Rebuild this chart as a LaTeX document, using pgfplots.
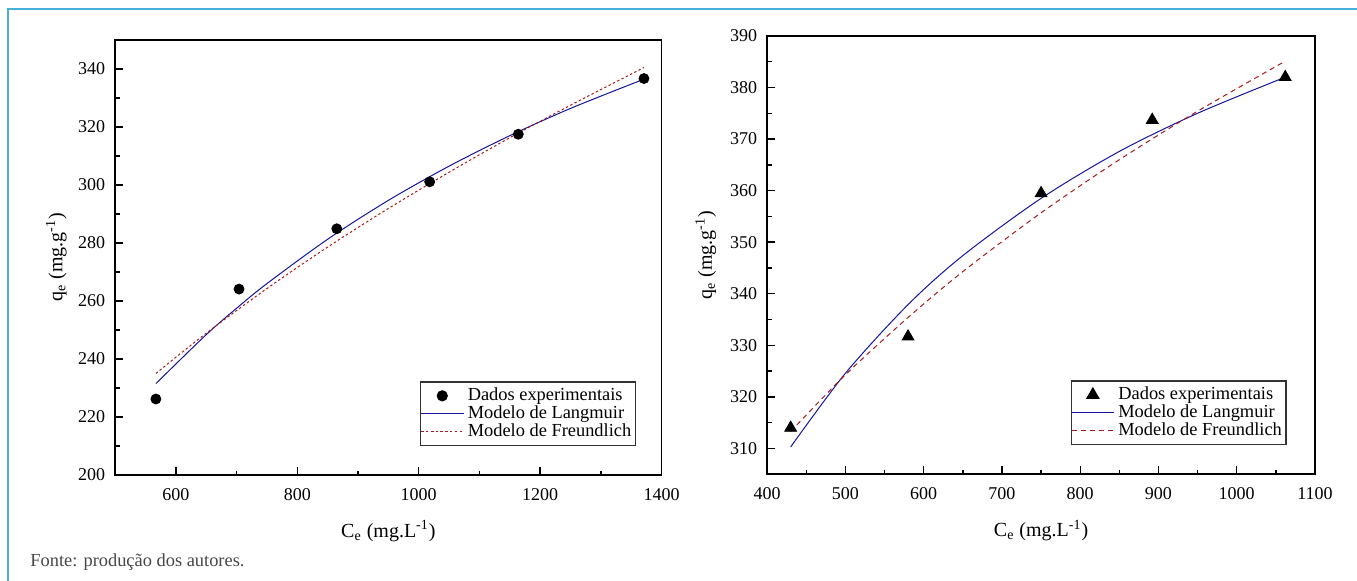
\documentclass[border=0pt]{standalone}
\usepackage{fontspec}
\setmainfont{Liberation Serif}
\usepackage{pgfplots}
\pgfplotsset{compat=1.18}

\definecolor{frameblue}{RGB}{70,175,220}
\definecolor{langblue}{RGB}{20,20,160}
\definecolor{freured}{RGB}{170,25,25}

\pgfplotsset{
  isoterma/.style={
    scale only axis,
    axis line style={line width=0.8pt},
    tick align=inside,
    xtick pos=bottom, ytick pos=left,
    minor tick num=1,
    major tick length=4pt, minor tick length=2.2pt,
    every tick/.style={black, line width=0.7pt},
    tick label style={font=\fontsize{9}{10}\selectfont},
    /pgf/number format/assume math mode=true,
    /pgf/number format/1000 sep={},
    xticklabel style={yshift=-3pt},
    yticklabel style={xshift=-1.5pt},
    label style={font=\fontsize{10.5}{12}\selectfont},
    legend cell align=left,
    legend style={font=\fontsize{9.2}{11}\selectfont, draw=black!80, line width=0.6pt,
      inner xsep=0pt, inner ysep=1pt, row sep=-3pt},
    legend image code/.code={\draw[mark repeat=2,mark phase=2,#1]
      plot coordinates {(0pt,0pt) (10.5pt,0pt) (21pt,0pt)};},
  }
}

\begin{document}
\begin{tikzpicture}
\path[use as bounding box] (0,0) rectangle (678.5pt,290.5pt);
\draw[frameblue, line width=0.6pt] (4pt,0pt) -- (4pt,286pt) -- (678.5pt,286pt);

% esquerda
\begin{axis}[isoterma,
  at={(57.6pt,53pt)}, anchor=south west,
  width=273.2pt, height=217.5pt,
  xmin=500, xmax=1400, ymin=200, ymax=350,
  xtick={600,800,...,1400}, ytick={200,220,...,340},
  xlabel={C\textsubscript{e} (mg.L\textsuperscript{-1})},
  ylabel={q\textsubscript{e} (mg.g\textsuperscript{-1})},
  every axis x label/.style={at={(axis description cs:0.5,-0.129)}, anchor=center},
  every axis y label/.style={at={(axis description cs:-0.108,0.5)}, rotate=90, anchor=center},
  legend style={at={(0.953,0.067)}, anchor=south east},
]
\addplot[only marks, mark=*, mark size=2.5pt, black] coordinates {
  (567,226.2) (704,264.1) (865,284.9) (1018,301.1) (1164,317.5) (1371,336.7)
};
\addlegendentry{Dados experimentais}
\addplot[langblue, line width=0.5pt, smooth] coordinates {
  (567,231.5) (650,248.4) (704,258.2) (750,266.0) (850,281.3) (950,294.7)
  (1050,306.5) (1150,317.0) (1250,326.4) (1371,336.5)
};
\addlegendentry{Modelo de Langmuir}
\addplot[freured, line width=0.5pt, smooth, dash pattern=on 1.2pt off 1.2pt] coordinates {
  (567,235.0) (650,248.9) (750,264.3) (850,278.6) (950,291.9)
  (1050,304.4) (1150,316.3) (1250,327.5) (1371,340.5)
};
\addlegendentry{Modelo de Freundlich}
\end{axis}

% direita
\begin{axis}[isoterma,
  at={(383.6pt,53.35pt)}, anchor=south west,
  width=273.9pt, height=219.2pt,
  xmin=400, xmax=1100, ymin=305, ymax=390,
  xtick={400,500,...,1100}, ytick={310,320,...,390},
  xlabel={C\textsubscript{e} (mg.L\textsuperscript{-1})},
  ylabel={q\textsubscript{e} (mg.g\textsuperscript{-1})},
  every axis x label/.style={at={(axis description cs:0.5,-0.129)}, anchor=center},
  every axis y label/.style={at={(axis description cs:-0.112,0.5)}, rotate=90, anchor=center},
  legend style={at={(0.948,0.067)}, anchor=south east},
]
\addplot[only marks, mark=triangle*, mark size=3.4pt, black] coordinates {
  (430,314.0) (580,331.7) (750,359.5) (892,373.7) (1062,382.0)
};
\addlegendentry{Dados experimentais}
\addplot[langblue, line width=0.5pt, smooth] coordinates {
  (430,310.3) (500,324.6) (580,337.9) (650,347.4) (750,358.5)
  (850,367.6) (950,375.0) (1062,382.0)
};
\addlegendentry{Modelo de Langmuir}
\addplot[freured, line width=0.5pt, smooth, dash pattern=on 2.5pt off 2pt] coordinates {
  (430,313.3) (500,324.3) (580,335.4) (650,344.3) (750,355.7)
  (850,366.0) (950,375.4) (1062,385.1)
};
\addlegendentry{Modelo de Freundlich}
\end{axis}

\node[anchor=west, text=black!72, inner sep=0pt, font=\fontsize{9.2}{10}\selectfont]
  at (15pt,9.5pt) {Fonte: produção dos autores.};
\end{tikzpicture}
\end{document}
